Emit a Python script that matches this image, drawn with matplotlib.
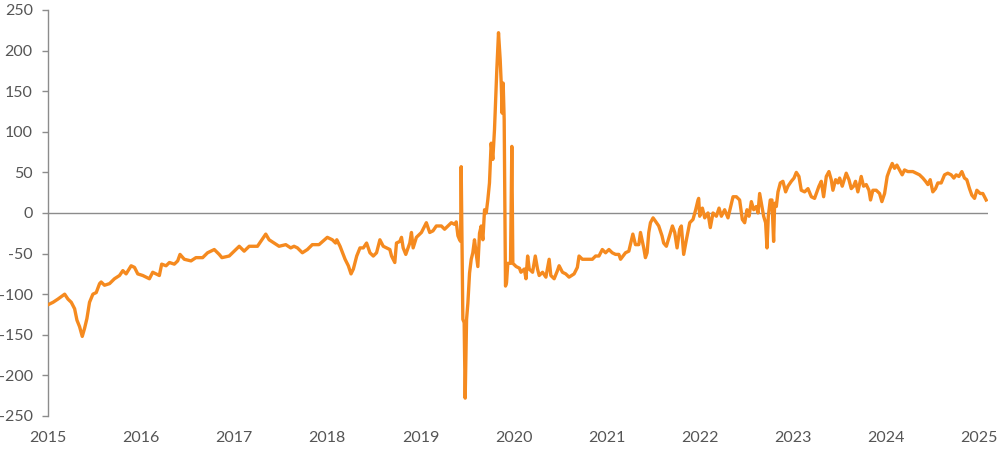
import matplotlib
matplotlib.use("Agg")
import matplotlib.pyplot as plt

plt.rcParams['font.family'] = ['Lato', 'DejaVu Sans']
plt.rcParams['axes.unicode_minus'] = False

# decimal-year positions and values
years = [
    2015.000, 2015.054, 2015.107, 2015.179, 2015.214, 2015.250, 2015.286, 2015.311, 2015.339, 2015.368,
    2015.393, 2015.418, 2015.446, 2015.482, 2015.518, 2015.554, 2015.571, 2015.607, 2015.661, 2015.714,
    2015.768, 2015.804, 2015.839, 2015.893, 2015.929, 2015.964, 2016.018, 2016.054, 2016.089, 2016.125,
    2016.161, 2016.196, 2016.221, 2016.268, 2016.304, 2016.357, 2016.393, 2016.418, 2016.464, 2016.536,
    2016.589, 2016.661, 2016.714, 2016.786, 2016.839, 2016.868, 2016.946, 2017.000, 2017.054, 2017.107,
    2017.161, 2017.250, 2017.286, 2017.339, 2017.375, 2017.429, 2017.482, 2017.554, 2017.607, 2017.643,
    2017.679, 2017.732, 2017.786, 2017.839, 2017.911, 2018.000, 2018.054, 2018.089,
    2018.102, 2018.137, 2018.191, 2018.226, 2018.255, 2018.280, 2018.316, 2018.351, 2018.387, 2018.422,
    2018.458, 2018.494, 2018.529, 2018.565, 2018.601, 2018.636, 2018.672, 2018.690, 2018.725, 2018.743,
    2018.779, 2018.797, 2018.815, 2018.843, 2018.886, 2018.904, 2018.922, 2018.957, 2019.011, 2019.064,
    2019.100, 2019.135, 2019.171, 2019.225, 2019.260, 2019.296, 2019.332, 2019.367, 2019.385, 2019.403,
    2019.421, 2019.432, 2019.438, 2019.445, 2019.456, 2019.470, 2019.481, 2019.496, 2019.510, 2019.528,
    2019.546, 2019.563, 2019.581, 2019.599, 2019.617, 2019.635, 2019.653, 2019.671, 2019.689, 2019.707,
    2019.724, 2019.742, 2019.760, 2019.778, 2019.796, 2019.807, 2019.821, 2019.839, 2019.857, 2019.868,
    2019.878, 2019.889, 2019.900, 2019.914, 2019.925, 2019.939, 2019.968, 2019.982, 2019.993, 2020.029,
    2020.064, 2020.080, 2020.116, 2020.134, 2020.152, 2020.169, 2020.205, 2020.234, 2020.258, 2020.276,
    2020.312, 2020.348, 2020.383, 2020.401, 2020.437, 2020.472, 2020.490, 2020.526, 2020.561, 2020.597,
    2020.651, 2020.686, 2020.704, 2020.740, 2020.793, 2020.847, 2020.882, 2020.918, 2020.954, 2020.989,
    2021.025, 2021.061, 2021.096, 2021.132, 2021.150, 2021.203, 2021.239, 2021.282, 2021.310, 2021.346,
    2021.364, 2021.399, 2021.417, 2021.435, 2021.453, 2021.471, 2021.499, 2021.524, 2021.560, 2021.595,
    2021.613, 2021.642, 2021.671, 2021.707, 2021.732, 2021.757, 2021.785, 2021.803, 2021.828, 2021.857,
    2021.893, 2021.928, 2021.957, 2021.982, 2021.989, 2022.000, 2022.029, 2022.054, 2022.089, 2022.114,
    2022.143, 2022.179, 2022.208, 2022.233, 2022.268, 2022.304, 2022.329, 2022.358, 2022.394, 2022.429,
    2022.458, 2022.483, 2022.508, 2022.530, 2022.555, 2022.580, 2022.608, 2022.626, 2022.644, 2022.662,
    2022.687, 2022.708, 2022.723, 2022.737, 2022.758, 2022.776, 2022.794, 2022.805, 2022.823, 2022.841,
    2022.866, 2022.894, 2022.923, 2022.948, 2022.984, 2023.013, 2023.038, 2023.066, 2023.091, 2023.127,
    2023.163, 2023.199, 2023.234, 2023.281, 2023.306, 2023.331, 2023.360, 2023.388, 2023.413, 2023.431,
    2023.460, 2023.485, 2023.503, 2023.531, 2023.574, 2023.603, 2023.628, 2023.653, 2023.674, 2023.699,
    2023.735, 2023.760, 2023.789, 2023.818, 2023.835, 2023.860, 2023.896, 2023.932, 2023.957, 2023.986,
    2024.014, 2024.039, 2024.068, 2024.093, 2024.118, 2024.147, 2024.175, 2024.200, 2024.236, 2024.290,
    2024.326, 2024.361, 2024.397, 2024.426, 2024.451, 2024.476, 2024.504, 2024.533, 2024.558, 2024.594,
    2024.630, 2024.665, 2024.701, 2024.730, 2024.755, 2024.784, 2024.816, 2024.844, 2024.869, 2024.898,
    2024.923, 2024.952, 2024.977, 2025.013, 2025.041, 2025.059, 2025.077,
]

spread = [
    -113, -110, -106, -100, -106, -110, -118, -132, -140, -152,
    -142, -130, -110, -100, -98, -87, -85, -89, -87, -81,
    -77, -71, -75, -65, -67, -75, -77, -79, -81, -73,
    -75, -77, -63, -65, -61, -63, -59, -51, -57, -59,
    -55, -55, -49, -45, -51, -55, -53, -47, -41, -47,
    -41, -41, -35, -26, -33, -37, -41, -39, -43, -41,
    -43, -49, -45, -39, -39, -30, -33, -37,
    -33, -41, -57, -65, -75, -69, -53, -43, -43, -37,
    -49, -53, -49, -33, -41, -43, -45, -53, -61, -37,
    -35, -30, -43, -51, -37, -24, -43, -30, -24, -12,
    -24, -22, -16, -16, -20, -16, -12, -14, -11, -28,
    -33, -35, 57, -20, -131, -135, -228, -131, -111, -74,
    -57, -49, -33, -49, -66, -25, -16, -33, 4, 0,
    16, 37, 86, 66, 103, 135, 177, 222, 189, 160,
    123, 160, 115, -90, -86, -62, -62, 82, -62, -66,
    -68, -73, -69, -81, -53, -69, -73, -53, -69, -77,
    -73, -79, -57, -77, -81, -71, -65, -73, -75, -79,
    -75, -67, -53, -57, -57, -57, -53, -53, -45, -49,
    -45, -49, -51, -51, -57, -49, -47, -26, -39, -39,
    -24, -43, -55, -49, -24, -12, -6, -10, -16, -28,
    -37, -41, -30, -16, -24, -43, -20, -16, -51, -33,
    -12, -8, 4, 16, 18, -4, 6, -6, 0, -18,
    0, -4, 6, -4, 4, -6, 6, 20, 20, 16,
    -8, -12, 4, -4, 14, 4, 8, 0, 24, 12,
    -4, -12, -43, -4, 16, 16, -35, 12, 8, 26,
    37, 39, 26, 33, 39, 43, 50, 45, 28, 26,
    30, 20, 18, 33, 39, 20, 45, 51, 41, 28,
    41, 37, 43, 33, 49, 41, 30, 33, 39, 26,
    45, 33, 35, 28, 16, 28, 28, 24, 14, 24,
    45, 53, 61, 55, 59, 53, 47, 53, 51, 51,
    49, 47, 43, 39, 35, 41, 26, 30, 37, 37,
    47, 49, 47, 43, 47, 45, 51, 43, 41, 30,
    22, 18, 28, 24, 24, 20, 16,
]

year_ticks = list(range(2015, 2026))
y_ticks = list(range(-250, 251, 50))

fig = plt.figure(figsize=(10, 4.5), dpi=100)
ax = fig.add_axes([0.048, 0.0756, 0.9403, 0.9022])

ax.plot(years, spread, color='#F58A1F', lw=2.4, solid_joinstyle='round', zorder=3)
ax.axhline(0, color='#8c8c8c', lw=1.0, zorder=2)

ax.set_xlim(2015, 2025.1)
ax.set_ylim(-250, 250)
ax.set_xticks(year_ticks)
ax.set_xticklabels([str(y) for y in year_ticks])
ax.set_yticks(y_ticks)

for side in ['top', 'right', 'bottom']:
    ax.spines[side].set_visible(False)
ax.spines['left'].set_color('#8c8c8c')
ax.spines['left'].set_linewidth(1.0)

ax.tick_params(axis='y', direction='out', length=4, width=1, color='#8c8c8c',
               labelsize=11.5, labelcolor='#555555', pad=7)
ax.tick_params(axis='x', length=0, labelsize=11.5, labelcolor='#555555', pad=11)

fig.savefig('out.png', dpi=100)
